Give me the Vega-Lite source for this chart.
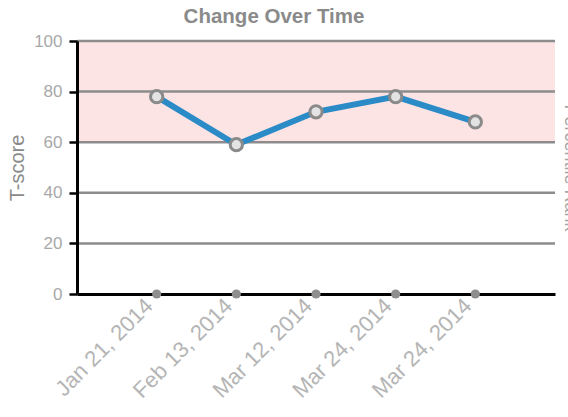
{
  "$schema": "https://vega.github.io/schema/vega-lite/v6.json",
  "width": 478,
  "height": 253,
  "padding": {"left": 7, "top": 6, "right": 5, "bottom": 5},
  "background": "white",
  "title": {"text": "Change Over Time", "fontSize": 20.5, "color": "#8a8a8a", "fontWeight": "bold", "font": "Liberation Sans", "offset": 5, "dx": -42},
  "config": {
    "view": {"stroke": null},
    "font": "Liberation Sans",
    "axisX": {"domainColor": "#000000", "domainWidth": 3, "ticks": false, "labelAngle": -45, "labelAlign": "right", "labelBaseline": "middle", "labelColor": "#b5b5b5", "labelFontSize": 22, "grid": false, "labelPadding": 8, "labelOffset": -8, "title": null},
    "axisY": {"domainColor": "#000000", "domainWidth": 3, "tickColor": "#000000", "tickWidth": 2.5, "tickSize": 8, "grid": false, "labelColor": "#a8a8a8", "labelFontSize": 17, "titleColor": "#8a8a8a", "titleFontSize": 20, "titleFontWeight": "normal", "values": [0, 20, 40, 60, 80, 100], "labelPadding": 7}
  },
  "datasets": {
    "scores": [
      {"date": "Jan 21, 2014", "score": 78},
      {"date": "Feb 13, 2014", "score": 59},
      {"date": "Mar 12, 2014", "score": 72},
      {"date": "Mar 24, 2014", "score": 78},
      {"date": "Mar 24, 2014 ", "score": 68}
    ],
    "grid": [{"v": 20}, {"v": 40}, {"v": 60}, {"v": 80}, {"v": 100}]
  },
  "resolve": {"axis": {"y": "independent"}},
  "layer": [
    {
      "data": {"values": [{"band": "target"}]},
      "mark": {"type": "rect", "color": "#fde4e4"},
      "encoding": {
        "y": {"datum": 60, "type": "quantitative", "scale": {"domain": [0, 100]}, "axis": {"orient": "right", "title": "Percentile Rank", "labels": false, "ticks": false, "domain": false, "titlePadding": 5, "titleFontSize": 18, "titleColor": "#a5a5a5"}},
        "y2": {"datum": 100}
      }
    },
    {
      "data": {"name": "grid"},
      "mark": {"type": "rule", "color": "#8c8c8c", "strokeWidth": 2.5},
      "encoding": {"y": {"field": "v", "type": "quantitative", "axis": null}}
    },
    {
      "data": {"name": "scores"},
      "mark": {"type": "line", "color": "#2b8bc7", "strokeWidth": 6},
      "encoding": {
        "x": {"field": "date", "type": "ordinal", "sort": null, "scale": {"type": "point", "padding": 1}, "title": null},
        "y": {"field": "score", "type": "quantitative", "title": "T-score", "axis": {"titlePadding": 6, "zindex": 2}}
      }
    },
    {
      "data": {"name": "scores"},
      "mark": {"type": "point", "filled": true, "fill": "#e3e3e3", "stroke": "#8a8a8a", "strokeWidth": 3, "size": 150, "opacity": 1},
      "encoding": {
        "x": {"field": "date", "type": "ordinal", "sort": null, "title": null},
        "y": {"field": "score", "type": "quantitative", "axis": null}
      }
    },
    {
      "data": {"name": "scores"},
      "mark": {"type": "circle", "color": "#8e8e8e", "size": 85, "opacity": 1},
      "encoding": {
        "x": {"field": "date", "type": "ordinal", "sort": null, "title": null},
        "y": {"datum": 0, "type": "quantitative", "axis": null}
      }
    }
  ]
}
